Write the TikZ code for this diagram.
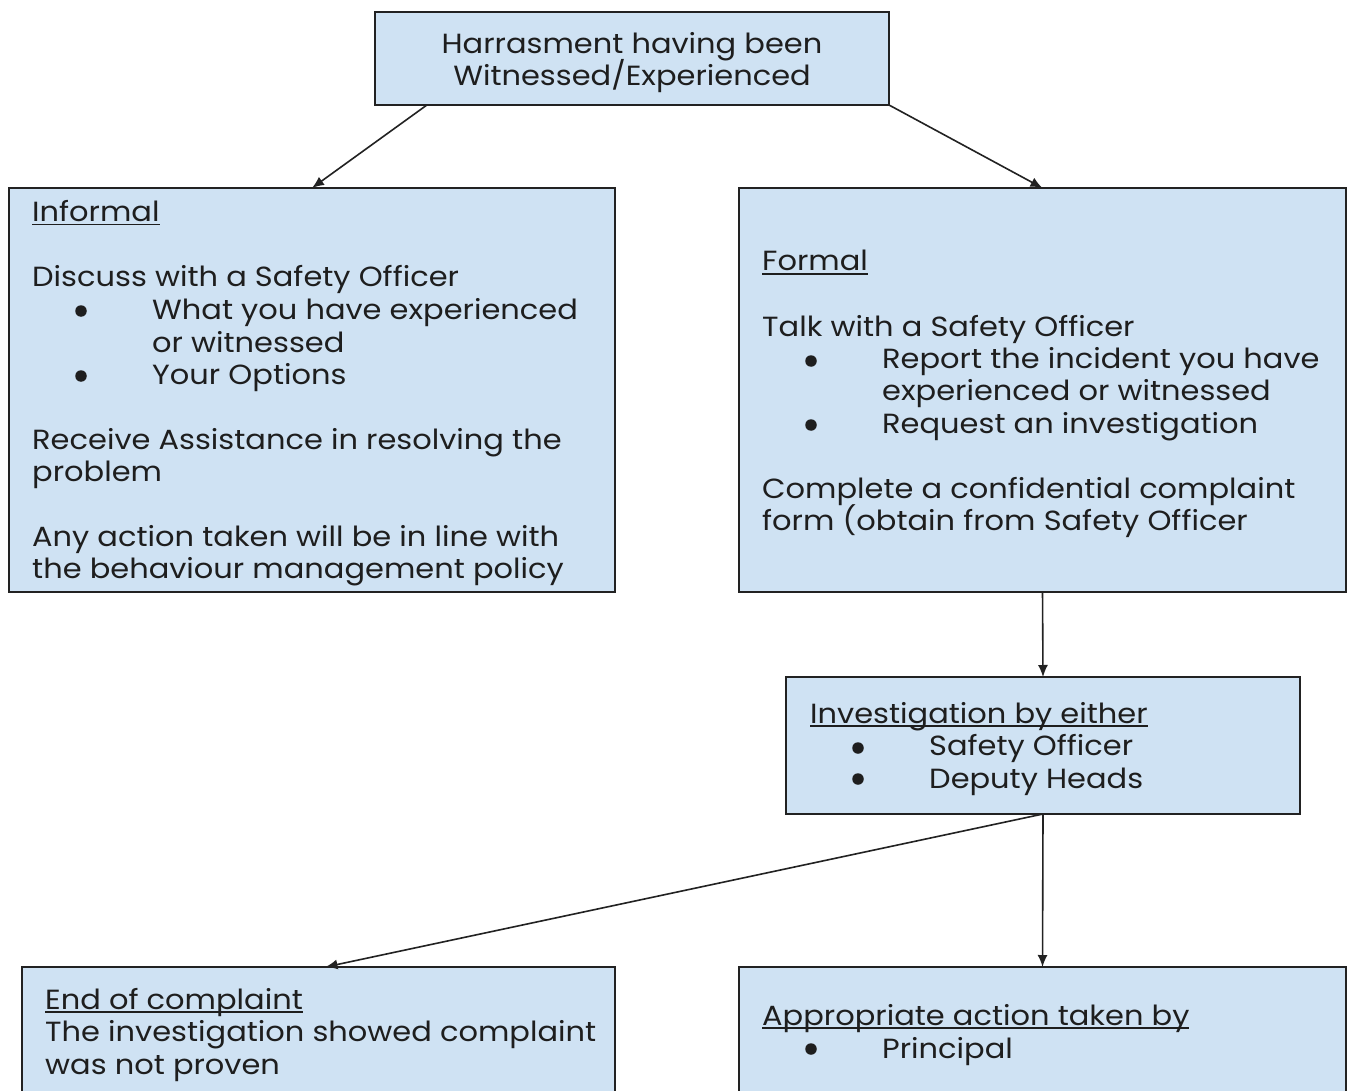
\documentclass[tikz,border=0pt]{standalone}
\usepackage{fontspec}
\setmainfont{Poppins}[FakeStretch=1.1]
\usetikzlibrary{arrows.meta,calc}
\definecolor{boxfill}{HTML}{CFE2F3}
\definecolor{boxline}{HTML}{222222}
\definecolor{txt}{HTML}{1E1E1E}
\newcommand{\myul}[1]{\setbox0\hbox{#1}\rlap{\rule[-3.5pt]{\wd0}{1.5pt}}\box0}
\tikzset{
  box/.style={draw=boxline, fill=boxfill, line width=1.5pt, anchor=north west, inner sep=0pt, outer sep=0pt},
  ln/.style={anchor=base west, inner sep=0pt, text=txt, font=\fontsize{27.7}{32}\selectfont},
  ctr/.style={anchor=base, inner sep=0pt, text=txt, font=\fontsize{27.7}{32}\selectfont},
  bul/.style={circle, fill=txt, inner sep=0pt, minimum size=11.5pt},
  arr/.style={-{Latex[length=12pt,width=10pt]}, line width=1.6pt, draw=boxline}
}
\begin{document}
\begin{tikzpicture}[x=1pt,y=-1pt]
\clip (0,0) rectangle (1351,1091);
\fill[white] (0,0) rectangle (1351,1091);
% boxes
\node[box, minimum width=514pt, minimum height=93pt] (top) at (375,12) {};
\node[box, minimum width=606pt, minimum height=404pt] (inf) at (9,188) {};
\node[box, minimum width=607pt, minimum height=404pt] (frm) at (739,188) {};
\node[box, minimum width=514pt, minimum height=137pt] (inv) at (786,677) {};
\node[box, minimum width=593pt, minimum height=160pt] (endb) at (22,967) {};
\node[box, minimum width=607pt, minimum height=160pt] (act) at (739,967) {};
% top text
\node[ctr] (t1) at (632,54) {Harrasment having been};
\node[ctr] (t2) at (632,86) {Witnessed/Experienced};
% informal
\node[ln] (i1) at (32,222) {\myul{Informal}};
\node[ln] (i2) at (32,287) {Discuss with a Safety Officer};
\node[bul] (ib1) at (81,311) {};
\node[ln] (i3) at (152,319) {What you have experienced};
\node[ln] (i4) at (152,352) {or witnessed};
\node[bul] (ib2) at (81,376) {};
\node[ln] (i5) at (152,384) {Your Options};
\node[ln] (i6) at (32,449) {Receive Assistance in resolving the};
\node[ln] (i7) at (32,481) {problem};
\node[ln] (i8) at (32,546) {Any action taken will be in line with};
\node[ln] (i9) at (32,578) {the behaviour management policy};
% formal
\node[ln] (f1) at (762,271) {\myul{Formal}};
\node[ln] (f2) at (762,336) {Talk with a Safety Officer};
\node[bul] (fb1) at (811,361) {};
\node[ln] (f3) at (882,368) {Report the incident you have};
\node[ln] (f4) at (882,400) {experienced or witnessed};
\node[bul] (fb2) at (811,425) {};
\node[ln] (f5) at (882,433) {Request an investigation};
\node[ln] (f6) at (762,498) {Complete a confidential complaint};
\node[ln] (f7) at (762,530) {form (obtain from Safety Officer};
% investigation
\node[ln] (v1) at (810,723) {\myul{Investigation by either}};
\node[bul] (vb1) at (858,748) {};
\node[ln] (v2) at (929,755) {Safety Officer};
\node[bul] (vb2) at (858,779) {};
\node[ln] (v3) at (929,788) {Deputy Heads};
% end of complaint
\node[ln] (e1) at (45,1009) {\myul{End of complaint}};
\node[ln] (e2) at (45,1041) {The investigation showed complaint};
\node[ln] (e3) at (45,1074) {was not proven};
% appropriate action
\node[ln] (a1) at (762,1025) {\myul{Appropriate action taken by}};
\node[bul] (ab1) at (811,1049) {};
\node[ln] (a2) at (882,1058) {Principal};
% arrows
\draw[arr] ($(top.south west)!0.101!(top.south east)$) -- (inf.north);
\draw[arr] (top.south east) -- (frm.north);
\draw[arr] (frm.south) -- (inv.north);
\draw[arr] (inv.south) -- ($(endb.north)+(7,0)$);
\draw[arr] (inv.south) -- (act.north);
\end{tikzpicture}
\end{document}
